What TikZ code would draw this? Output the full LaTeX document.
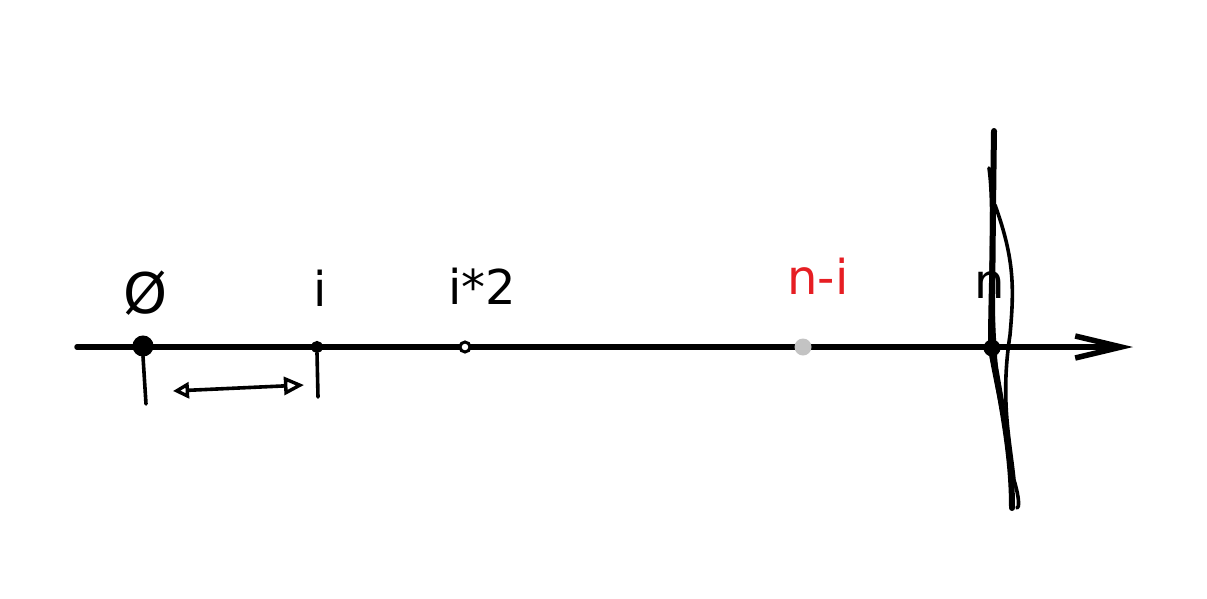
\documentclass[tikz,border=0pt]{standalone}
\usepackage{fontspec}
\setmainfont{DejaVu Sans}
\usetikzlibrary{arrows.meta}
\definecolor{penred}{RGB}{230,30,35}
\definecolor{pengray}{RGB}{195,195,195}
\tikzset{
  pen/.style={line width=3.6pt, line cap=round, line join=round},
  axisline/.style={line width=5.5pt, line cap=round},
  lbl/.style={inner sep=0pt, font=\fontsize{48}{48}\selectfont},
  pt/.style={circle, draw=black, line width=3pt, inner sep=0pt, minimum size=10pt},
  scrib/.style={line width=3.6pt, line cap=round},
}
\begin{document}
\begin{tikzpicture}[x=1pt,y=-1pt]
\useasboundingbox (0,0) rectangle (1207,598);
% axis
\coordinate (start) at (77,347);
\coordinate (end) at (1133,347);
\draw[axisline, -{Straight Barb[length=46pt,width=22pt,line width=5.5pt]}] (start) -- (end);
% points
\node[pt, fill=black, minimum size=18pt] (p0) at (143,346) {};
\node[pt, fill=black, minimum size=9pt] (pi) at (317,347) {};
\node[pt, fill=white, minimum size=10pt] (p2i) at (465,347) {};
\node[circle, fill=pengray, inner sep=0pt, minimum size=17pt] (pni) at (803,347) {};
\node[pt, fill=black, minimum size=14pt] (pn) at (992,348) {};
% labels
\node[lbl, font=\fontsize{56}{56}\selectfont] (l0) at (146,293) {Ø};
\node[lbl] (li) at (320,288) {i};
\node[lbl] (l2i) at (482,286) {i*2};
\node[lbl, text=penred] (lni) at (818,276) {n-i};
\node[lbl] (ln) at (990,285) {n};
% ticks
\coordinate (t0) at (146,404);
\coordinate (ti) at (318,397);
\draw[pen] (p0.south) -- (t0);
\draw[pen] (pi.south) -- (ti);
% double arrow
\coordinate (a1) at (173,391);
\coordinate (a2) at (304,385);
\draw[pen, {Triangle[open,length=16pt,width=16pt,line width=3.4pt]}-{Triangle[open,length=20pt,width=18pt,line width=3.4pt]}] (a1) -- (a2);
% big vertical scribble through n
\draw[line width=6pt, line cap=round] (994,131) .. controls (993,200) and (992,300) .. (pn.center) .. controls (1000,400) and (1012,450) .. (1012,508);
\draw[scrib] (989,168) .. controls (995,210) and (989,300) .. (990,350) .. controls (995,380) and (1005,420) .. (1010,460);
\draw[scrib] (995,205) .. controls (1015,260) and (1014,290) .. (1010,335) .. controls (1000,400) and (1010,440) .. (1014,480) .. controls (1020,500) and (1019,508) .. (1017,508);
\draw[scrib] (993,215) .. controls (991,280) and (993,330) .. (997,380);
\end{tikzpicture}
\end{document}
